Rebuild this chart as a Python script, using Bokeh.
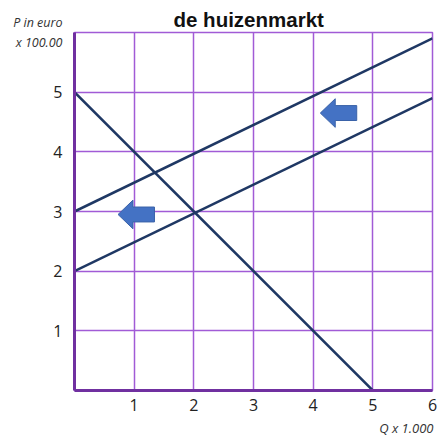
from bokeh.plotting import figure
from bokeh.models import Range1d, FixedTicker, Title, LinearAxis
from bokeh.embed import file_html
from bokeh.resources import INLINE

# Data
demand_q = [0, 5]
demand_p = [5, 0]
supply1_q = [0, 6]
supply1_p = [2, 4.9]
supply2_q = [0, 6]
supply2_p = [3, 5.9]
x_ticks = [1, 2, 3, 4, 5, 6]
y_ticks = [1, 2, 3, 4, 5]
grid_ticks = [1, 2, 3, 4, 5, 6]
arrow_tip_x = [4.12, 0.73]
arrow_y = [4.65, 2.95]
y_unit_label = "P in euro\nx 100.00"
x_unit_label = "Q x 1.000"
chart_title = "de huizenmarkt"

GRID = "#A15BD6"
AXIS = "#7030A0"
LINE = "#1F3864"
ARROW = "#4472C4"

W, H = 437, 441
p = figure(width=W, height=H, output_backend="svg", toolbar_location=None,
           x_range=Range1d(0, 6), y_range=Range1d(0, 6),
           min_border_left=74, min_border_right=5, min_border_top=32, min_border_bottom=51)
p.background_fill_color = "white"
p.border_fill_color = "white"
p.outline_line_color = GRID
p.outline_line_width = 1.5

p.title.text = chart_title
p.title.align = "left"
p.title.offset = 99
p.title.standoff = 4
p.title.text_font = "Liberation Sans"
p.title.text_font_style = "bold"
p.title.text_font_size = "20.5px"
p.title.text_color = "#111111"

p.xgrid.ticker = FixedTicker(ticks=grid_ticks)
p.ygrid.ticker = FixedTicker(ticks=grid_ticks)
for g in (p.xgrid, p.ygrid):
    g.grid_line_color = GRID
    g.grid_line_width = 1.5
    g.grid_line_alpha = 1.0

p.xaxis.ticker = FixedTicker(ticks=x_ticks)
p.yaxis.ticker = FixedTicker(ticks=y_ticks)
for ax in (p.xaxis, p.yaxis):
    ax.axis_line_color = AXIS
    ax.axis_line_width = 3
    ax.major_tick_line_color = None
    ax.minor_tick_line_color = None
    ax.major_label_text_font = "Open Sans"
    ax.major_label_text_font_size = "16px"
    ax.major_label_text_color = "#222222"
p.xaxis.major_label_standoff = 2
p.yaxis.major_label_standoff = 6

# secondary left axis carrying the unit label at the top of the price axis
unit_axis = LinearAxis(ticker=FixedTicker(ticks=[6]),
                       major_label_overrides={6: y_unit_label},
                       axis_line_color=None, major_tick_line_color=None,
                       minor_tick_line_color=None, major_label_standoff=-18,
                       major_label_text_font="Open Sans",
                       major_label_text_font_style="italic",
                       major_label_text_font_size="12.5px",
                       major_label_text_color="#333333")
p.add_layout(unit_axis, "left")

p.line(demand_q, demand_p, line_color=LINE, line_width=2.5)
p.line(supply1_q, supply1_p, line_color=LINE, line_width=2.5)
p.line(supply2_q, supply2_p, line_color=LINE, line_width=2.5)

# block arrows pointing left
xs, ys = [], []
for tx, cy in zip(arrow_tip_x, arrow_y):
    hl, sl, hh, sh = 0.25, 0.36, 0.24, 0.125
    xs.append([tx, tx + hl, tx + hl, tx + hl + sl, tx + hl + sl, tx + hl, tx + hl])
    ys.append([cy, cy + hh, cy + sh, cy + sh, cy - sh, cy - sh, cy - hh])
p.patches(xs, ys, fill_color=ARROW, line_color="#3A62A8", line_width=1)

q_title = Title(text=x_unit_label, align="right", offset=-1, standoff=7,
                text_font="Open Sans", text_font_style="italic",
                text_font_size="13px", text_color="#333333")
p.add_layout(q_title, "below")

open("out.html", "w").write(file_html(p, INLINE))
